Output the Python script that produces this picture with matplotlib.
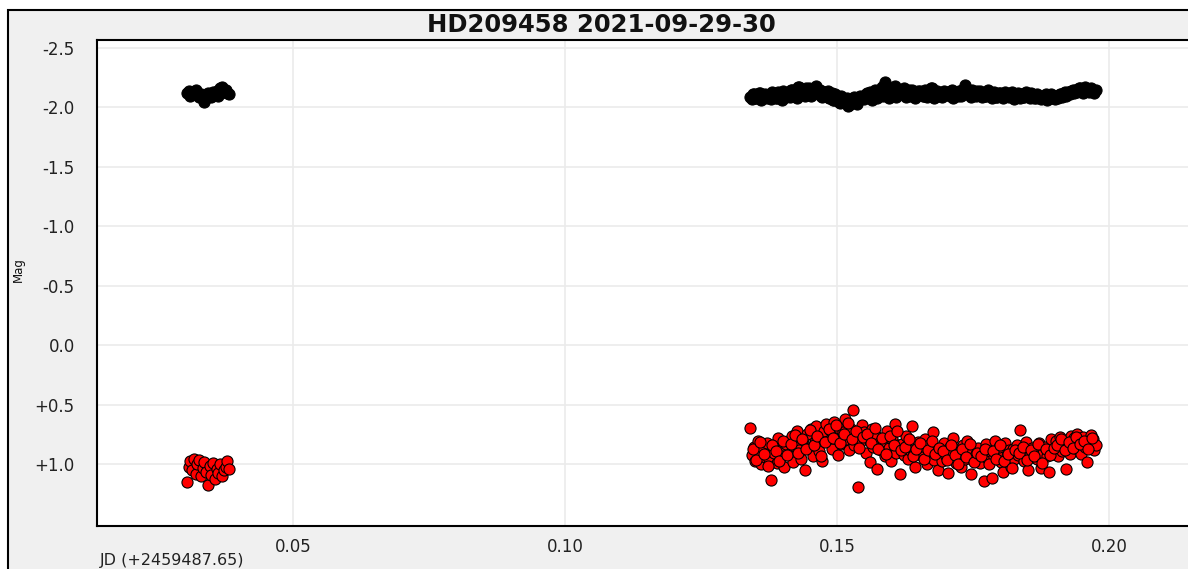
import matplotlib
matplotlib.use("Agg")
import matplotlib.pyplot as plt
from matplotlib.patches import Rectangle
from matplotlib.ticker import FuncFormatter, FixedLocator

TITLE = "HD209458 2021-09-29-30"
X_LABEL = "JD (+2459487.65)"
Y_LABEL = "Mag"
X_TICKS = [0.05, 0.10, 0.15, 0.20]
Y_TICKS = [-2.5, -2.0, -1.5, -1.0, -0.5, 0.0, 0.5, 1.0]

# First block of frames (JD offset)
t_early = [0.0305, 0.0308, 0.0311, 0.0314, 0.0318, 0.0321, 0.0324, 0.0327, 0.0331, 0.0334,
           0.0337, 0.0340, 0.0344, 0.0347, 0.0350, 0.0353, 0.0357, 0.0360, 0.0363, 0.0366,
           0.0370, 0.0373, 0.0376, 0.0379, 0.0382]
check_early = [-2.12, -2.14, -2.10, -2.13, -2.11, -2.15, -2.12, -2.09, -2.11, -2.10,
               -2.05, -2.08, -2.12, -2.10, -2.09, -2.13, -2.11, -2.14, -2.10, -2.16,
               -2.17, -2.13, -2.15, -2.12, -2.11]
target_early = [1.15, 1.02, 0.97, 1.05, 0.95, 1.08, 1.00, 0.96, 1.10, 1.03,
                0.98, 1.06, 1.17, 1.01, 1.09, 0.99, 1.12, 1.04, 1.07, 1.00,
                1.10, 1.05, 1.02, 0.97, 1.04]

# Second block of frames (JD offset), camera A
t_late = [
    0.1340, 0.1343, 0.1347, 0.1350, 0.1354, 0.1357, 0.1361, 0.1364, 0.1368, 0.1371,
    0.1375, 0.1378, 0.1382, 0.1385, 0.1389, 0.1392, 0.1396, 0.1399, 0.1403, 0.1406,
    0.1410, 0.1413, 0.1417, 0.1420, 0.1424, 0.1427, 0.1431, 0.1434, 0.1438, 0.1441,
    0.1445, 0.1448, 0.1452, 0.1455, 0.1459, 0.1462, 0.1466, 0.1469, 0.1473, 0.1476,
    0.1480, 0.1483, 0.1487, 0.1490, 0.1494, 0.1497, 0.1501, 0.1504, 0.1508, 0.1511,
    0.1515, 0.1518, 0.1522, 0.1525, 0.1529, 0.1532, 0.1536, 0.1539, 0.1543, 0.1546,
    0.1550, 0.1553, 0.1557, 0.1560, 0.1564, 0.1567, 0.1571, 0.1574, 0.1578, 0.1581,
    0.1585, 0.1588, 0.1592, 0.1595, 0.1599, 0.1602, 0.1606, 0.1609, 0.1613, 0.1616,
    0.1620, 0.1623, 0.1627, 0.1630, 0.1634, 0.1637, 0.1641, 0.1644, 0.1648, 0.1651,
    0.1655, 0.1658, 0.1662, 0.1665, 0.1669, 0.1672, 0.1676, 0.1679, 0.1683, 0.1686,
    0.1690, 0.1693, 0.1697, 0.1700, 0.1704, 0.1707, 0.1711, 0.1714, 0.1718, 0.1721,
    0.1725, 0.1728, 0.1732, 0.1735, 0.1739, 0.1742, 0.1746, 0.1749, 0.1753, 0.1756,
    0.1760, 0.1763, 0.1767, 0.1770, 0.1774, 0.1777, 0.1781, 0.1784, 0.1788, 0.1791,
    0.1795, 0.1798, 0.1802, 0.1805, 0.1809, 0.1812, 0.1816, 0.1819, 0.1823, 0.1826,
    0.1830, 0.1833, 0.1837, 0.1840, 0.1844, 0.1847, 0.1851, 0.1854, 0.1858, 0.1861,
    0.1865, 0.1868, 0.1872, 0.1875, 0.1879, 0.1882, 0.1886, 0.1889, 0.1893, 0.1896,
    0.1900, 0.1903, 0.1907, 0.1910, 0.1914, 0.1917, 0.1921, 0.1924, 0.1928, 0.1931,
    0.1935, 0.1938, 0.1942, 0.1945, 0.1949, 0.1952, 0.1956, 0.1959, 0.1963, 0.1966,
    0.1970, 0.1973, 0.1977]
check_late = [
    -2.09, -2.07, -2.11, -2.08, -2.10, -2.12, -2.06, -2.09, -2.11, -2.08,
    -2.10, -2.07, -2.12, -2.09, -2.08, -2.13, -2.10, -2.06, -2.11, -2.09,
    -2.12, -2.09, -2.15, -2.10, -2.13, -2.08, -2.17, -2.11, -2.14, -2.10,
    -2.13, -2.16, -2.10, -2.14, -2.12, -2.18, -2.11, -2.15, -2.09, -2.13,
    -2.10, -2.14, -2.08, -2.12, -2.06, -2.11, -2.09, -2.05, -2.10, -2.07,
    -2.04, -2.08, -2.02, -2.07, -2.05, -2.09, -2.03, -2.06, -2.10, -2.08,
    -2.07, -2.11, -2.09, -2.13, -2.06, -2.10, -2.12, -2.08, -2.14, -2.11,
    -2.10, -2.21, -2.13, -2.08, -2.15, -2.11, -2.18, -2.09, -2.12, -2.14,
    -2.11, -2.16, -2.09, -2.13, -2.10, -2.15, -2.12, -2.08, -2.14, -2.11,
    -2.13, -2.10, -2.15, -2.09, -2.12, -2.16, -2.11, -2.08, -2.14, -2.10,
    -2.12, -2.09, -2.14, -2.11, -2.13, -2.10, -2.15, -2.08, -2.12, -2.11,
    -2.14, -2.10, -2.12, -2.19, -2.11, -2.13, -2.09, -2.15, -2.12, -2.10,
    -2.11, -2.14, -2.09, -2.12, -2.10, -2.15, -2.11, -2.08, -2.13, -2.10,
    -2.09, -2.12, -2.10, -2.08, -2.13, -2.11, -2.09, -2.12, -2.10, -2.07,
    -2.10, -2.12, -2.08, -2.11, -2.09, -2.13, -2.10, -2.08, -2.11, -2.09,
    -2.08, -2.11, -2.09, -2.07, -2.10, -2.08, -2.06, -2.09, -2.11, -2.08,
    -2.07, -2.10, -2.08, -2.11, -2.09, -2.12, -2.10, -2.13, -2.11, -2.14,
    -2.12, -2.15, -2.13, -2.16, -2.14, -2.12, -2.17, -2.15, -2.13, -2.16,
    -2.14, -2.12, -2.15]
target_late = [
    0.69, 0.92, 0.85, 0.97, 0.80, 0.90, 1.00, 0.86, 0.94, 0.82,
    0.95, 1.13, 0.84, 0.90, 0.99, 0.78, 0.88, 0.93, 1.02, 0.83,
    0.80, 0.91, 0.76, 0.98, 0.85, 0.72, 0.88, 0.95, 0.79, 1.05,
    0.74, 0.86, 0.70, 0.93, 0.81, 0.68, 0.89, 0.77, 0.97, 0.72,
    0.66, 0.80, 0.71, 0.87, 0.64, 0.76, 0.92, 0.69, 0.83, 0.73,
    0.62, 0.79, 0.88, 0.70, 0.54, 0.84, 0.75, 1.19, 0.81, 0.67,
    0.73, 0.90, 0.78, 0.98, 0.70, 0.85, 0.76, 1.04, 0.82, 0.88,
    0.80, 0.93, 0.72, 0.86, 0.97, 0.79, 0.66, 0.90, 0.84, 1.08,
    0.83, 0.92, 0.76, 0.95, 0.88, 0.68, 0.90, 1.02, 0.81, 0.87,
    0.86, 0.94, 0.79, 1.00, 0.84, 0.91, 0.73, 0.96, 0.89, 1.05,
    0.88, 0.97, 0.82, 0.93, 1.07, 0.85, 0.91, 0.78, 0.99, 0.87,
    0.90, 1.02, 0.84, 0.95, 0.80, 0.93, 1.08, 0.88, 0.97, 0.91,
    0.86, 0.99, 0.92, 1.14, 0.83, 0.95, 0.89, 1.11, 0.94, 0.80,
    0.91, 0.85, 0.98, 1.06, 0.82, 0.93, 0.88, 1.02, 0.87, 0.95,
    0.84, 0.92, 0.71, 0.89, 0.97, 0.81, 1.05, 0.90, 0.86, 0.94,
    0.88, 0.95, 0.82, 1.03, 0.90, 0.85, 0.93, 1.06, 0.79, 0.91,
    0.86, 0.80, 0.93, 0.77, 0.89, 0.84, 1.04, 0.82, 0.91, 0.76,
    0.78, 0.86, 0.74, 0.83, 0.91, 0.77, 0.85, 0.98, 0.80, 0.75,
    0.79, 0.88, 0.84]

# Second block of frames, interleaved exposures
t_late_b = [
    0.1345, 0.1352, 0.1359, 0.1366, 0.1373, 0.1380, 0.1387, 0.1394, 0.1401, 0.1408,
    0.1415, 0.1422, 0.1429, 0.1436, 0.1443, 0.1450, 0.1457, 0.1464, 0.1471, 0.1478,
    0.1485, 0.1492, 0.1499, 0.1506, 0.1513, 0.1520, 0.1527, 0.1534, 0.1541, 0.1548,
    0.1555, 0.1562, 0.1569, 0.1576, 0.1583, 0.1590, 0.1597, 0.1604, 0.1611, 0.1618,
    0.1625, 0.1632, 0.1639, 0.1646, 0.1653, 0.1660, 0.1667, 0.1674, 0.1681, 0.1688,
    0.1695, 0.1702, 0.1709, 0.1716, 0.1723, 0.1730, 0.1737, 0.1744, 0.1751, 0.1758,
    0.1765, 0.1772, 0.1779, 0.1786, 0.1793, 0.1800, 0.1807, 0.1814, 0.1821, 0.1828,
    0.1835, 0.1842, 0.1849, 0.1856, 0.1863, 0.1870, 0.1877, 0.1884, 0.1891, 0.1898,
    0.1905, 0.1912, 0.1919, 0.1926, 0.1933, 0.1940, 0.1947, 0.1954, 0.1961, 0.1968]
check_late_b = [
    -2.11, -2.08, -2.12, -2.10, -2.09, -2.13, -2.08, -2.11, -2.14, -2.10,
    -2.15, -2.12, -2.17, -2.13, -2.16, -2.11, -2.14, -2.12, -2.10, -2.13,
    -2.08, -2.06, -2.10, -2.04, -2.07, -2.01, -2.06, -2.04, -2.08, -2.09,
    -2.12, -2.10, -2.15, -2.13, -2.17, -2.12, -2.15, -2.11, -2.14, -2.13,
    -2.12, -2.15, -2.11, -2.13, -2.14, -2.10, -2.13, -2.16, -2.12, -2.11,
    -2.13, -2.11, -2.14, -2.12, -2.10, -2.15, -2.12, -2.13, -2.11, -2.14,
    -2.12, -2.10, -2.13, -2.11, -2.09, -2.12, -2.10, -2.11, -2.13, -2.09,
    -2.11, -2.09, -2.10, -2.12, -2.08, -2.10, -2.09, -2.11, -2.08, -2.10,
    -2.09, -2.11, -2.13, -2.12, -2.15, -2.14, -2.16, -2.13, -2.15, -2.14]
target_late_b = [
    0.87, 0.96, 0.81, 0.91, 1.01, 0.84, 0.89, 0.97, 0.80, 0.92,
    0.83, 0.75, 0.90, 0.79, 0.87, 0.71, 0.84, 0.76, 0.93, 0.81,
    0.70, 0.78, 0.67, 0.82, 0.74, 0.65, 0.79, 0.72, 0.86, 0.77,
    0.74, 0.82, 0.69, 0.87, 0.78, 0.91, 0.76, 0.84, 0.72, 0.88,
    0.85, 0.79, 0.93, 0.87, 0.82, 0.95, 0.88, 0.80, 0.91, 0.86,
    0.89, 0.96, 0.84, 0.92, 1.00, 0.87, 0.94, 0.83, 0.98, 0.90,
    0.93, 0.87, 1.00, 0.89, 0.95, 0.84, 0.97, 0.91, 1.03, 0.88,
    0.90, 0.85, 0.96, 0.88, 0.93, 0.83, 0.99, 0.87, 0.92, 0.86,
    0.84, 0.79, 0.88, 0.81, 0.86, 0.77, 0.83, 0.80, 0.87, 0.78]

W, H = 1188, 569
fig = plt.figure(figsize=(W / 100, H / 100), dpi=100, facecolor="white")

# grey panel with a thin black frame, kept behind the axes
fig.patches.append(Rectangle((8 / W, -0.05), 1.1, 1.05 - 10 / H,
                             transform=fig.transFigure, facecolor="#f0f0f0",
                             edgecolor="black", linewidth=1.5, zorder=-10))

ax = fig.add_axes([97 / W, 1 - 526 / H, 1 - 97 / W + 0.01, (526 - 40) / H])
ax.set_zorder(1)
ax.set_facecolor("white")

ax.set_xlim(0.01397, 0.21452 + 0.05 * 0.01 * W / 272)
ax.set_ylim(1.517, -2.567)

ax.xaxis.set_major_locator(FixedLocator(X_TICKS))
ax.yaxis.set_major_locator(FixedLocator(Y_TICKS))
ax.xaxis.set_major_formatter(FuncFormatter(lambda v, p: f"{v:.2f}"))
ax.yaxis.set_major_formatter(FuncFormatter(
    lambda v, p: f"+{v:.1f}" if v > 0 else ("0.0" if abs(v) < 1e-9 else f"{v:.1f}")))

ax.tick_params(axis="both", length=0, labelsize=12, colors="#222222")
ax.tick_params(axis="y", pad=16)
ax.tick_params(axis="x", pad=9)

ax.grid(True, color="#ebebeb", linewidth=1.2, zorder=0)
ax.set_axisbelow(True)

for side in ("left", "top", "bottom"):
    ax.spines[side].set_color("black")
    ax.spines[side].set_linewidth(1.5)
ax.spines["right"].set_visible(False)

mk = dict(s=64, linewidths=0.8, edgecolors="black", zorder=3)
ax.scatter(t_early, check_early, c="black", **mk)
ax.scatter(t_late, check_late, c="black", **mk)
ax.scatter(t_late_b, check_late_b, c="black", **mk)
ax.scatter(t_early, target_early, c="#ff0000", **mk)
ax.scatter(t_late, target_late, c="#ff0000", **mk)
ax.scatter(t_late_b, target_late_b, c="#ff0000", **mk)

fig.text(601 / W, 1 - 25 / H, TITLE, ha="center", va="center",
         fontsize=17.5, fontweight="bold", color="#111111")
fig.text(18 / W, 1 - 270 / H, Y_LABEL, ha="center", va="center",
         rotation=90, fontsize=8.5, color="#111111")
fig.text(100 / W, 1 - 560 / H, X_LABEL, ha="left", va="center",
         fontsize=11.5, color="#222222")

fig.savefig("out.png", dpi=100, facecolor=fig.get_facecolor())
